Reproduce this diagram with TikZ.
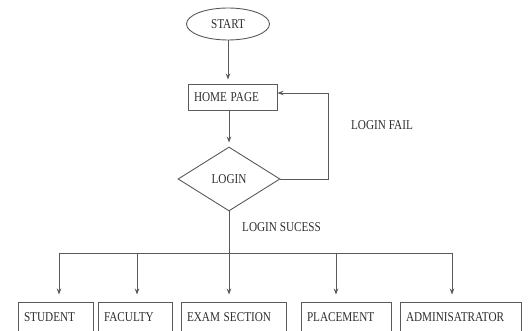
\documentclass[tikz,border=0pt]{standalone}
\usepackage{fontspec}
\setmainfont{Liberation Serif}
\usetikzlibrary{shapes.geometric,arrows.meta}
\definecolor{linec}{HTML}{5A5A5A}
\definecolor{textc}{HTML}{2E2E2E}
\newcommand{\Lbl}[1]{\scalebox{0.83}[1]{#1}}
\tikzset{
  lbl/.style={text=textc,font=\fontsize{13.5}{14}\selectfont,inner sep=0pt},
  conn/.style={draw=linec,line width=0.9pt},
  arr/.style={conn,-{Stealth[length=6pt,width=4.5pt]}},
  boxnode/.style={draw=linec,line width=0.9pt,text=textc,font=\fontsize{13.5}{14}\selectfont,
    inner xsep=6pt,inner ysep=0pt,minimum height=31pt,align=left},
}
\begin{document}
\begin{tikzpicture}[x=1pt,y=-1pt]
\useasboundingbox (0,0) rectangle (528,331);
% top flow
\node[ellipse,draw=linec,line width=0.9pt,text=textc,font=\fontsize{13.5}{14}\selectfont,
  minimum width=83pt,minimum height=32pt,inner sep=0pt] (start) at (228,24) {\Lbl{START}};
\node[boxnode,minimum height=26pt,text width=77pt] (home) at (232.5,97) {\Lbl{HOME PAGE}};
\node[diamond,draw=linec,line width=0.9pt,text=textc,font=\fontsize{13.5}{14}\selectfont,
  minimum width=102pt,minimum height=64pt,inner sep=0pt] (login) at (229,179) {\Lbl{LOGIN}};
% labels
\node[lbl] (failtxt) at (382,125) {\Lbl{LOGIN FAIL}};
\node[lbl,anchor=west] (sucesstxt) at (242,227) {\Lbl{LOGIN SUCESS}};
% bottom boxes
\node[boxnode,text width=63pt] (student) at (55.5,317.5) {\Lbl{STUDENT}};
\node[boxnode,text width=62pt] (faculty) at (135,317.5) {\Lbl{FACULTY}};
\node[boxnode,text width=93pt] (exam) at (233.5,317.5) {\Lbl{EXAM SECTION}};
\node[boxnode,text width=78pt] (placement) at (346,317.5) {\Lbl{PLACEMENT}};
\node[boxnode,text width=109pt] (admin) at (460.5,317.5) {\Lbl{ADMINISATRATOR}};
% connectors
\draw[arr,shorten >=4pt] (start) -- (start.south |- home.north);
\draw[arr,shorten >=4pt] (home.south -| login.north) -- (login.north);
\coordinate (loopx) at (328,0);
\coordinate (loopin) at (0,93);
\draw[arr] (login.east) -- (login.east -| loopx) -- (loopx |- loopin) -- (loopin -| home.east);
% distribution bar
\coordinate (a1) at (59,253);
\coordinate (a2) at (137,253);
\coordinate (a3) at (228,253);
\coordinate (a4) at (336,253);
\coordinate (a5) at (452,253);
\draw[conn] (a1) -- (a5);
\draw[arr,shorten >=7pt] (login.south) -- (login.south |- exam.north);
\draw[arr,shorten >=7pt] (a1) -- (a1 |- student.north);
\draw[arr,shorten >=7pt] (a2) -- (a2 |- faculty.north);
\draw[arr,shorten >=7pt] (a4) -- (a4 |- placement.north);
\draw[arr,shorten >=7pt] (a5) -- (a5 |- admin.north);
\end{tikzpicture}
\end{document}
